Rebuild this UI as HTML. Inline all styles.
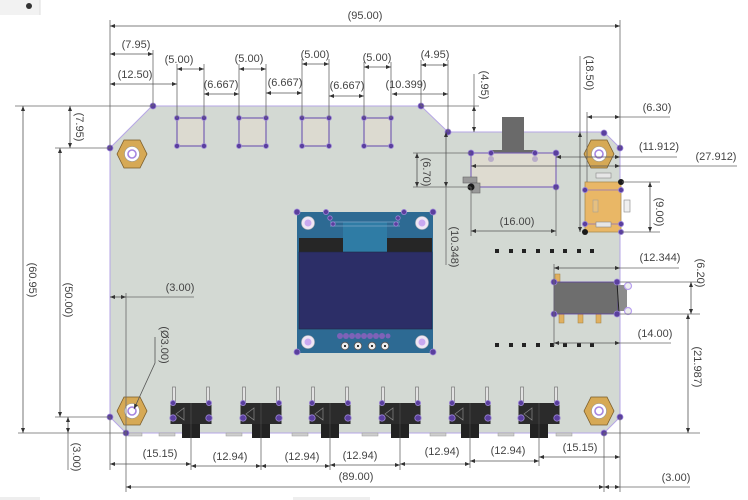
<!DOCTYPE html>
<html><head><meta charset="utf-8"><style>
html,body{margin:0;padding:0;background:#fff;width:748px;height:500px;overflow:hidden}
svg{display:block}
text{font-family:"Liberation Sans",Arial,sans-serif;font-size:11px;fill:#444}
.e{stroke:#6a6a6a;stroke-width:0.8;fill:none}
.d{stroke:#555;stroke-width:0.8;fill:none;marker-start:url(#ar);marker-end:url(#ar)}
.p{fill:#5a3f9e;stroke:#9b85d6;stroke-width:0.8}
.pb{fill:#1a1a1a}
</style></head><body>
<svg width="748" height="500" viewBox="0 0 748 500" xmlns="http://www.w3.org/2000/svg">
<defs>
<marker id="ar" viewBox="0 0 10 10" refX="10" refY="5" markerWidth="7" markerHeight="5" orient="auto-start-reverse" markerUnits="userSpaceOnUse"><path d="M0,1 L10,5 L0,9z" fill="#333"/></marker>
<g id="hex"><path d="M-15,0 L-8,-14 L8,-14 L15,0 L8,14 L-8,14Z" fill="#d6a955" stroke="#7a5d2a" stroke-width="0.8"/><circle r="7.5" fill="#fff" stroke="#999" stroke-width="0.6"/><circle r="4" fill="#fff" stroke="#a585e0" stroke-width="1.6"/></g>
<g id="sw">
<rect x="-18.5" y="-24" width="3" height="15" fill="#e2e2e2" stroke="#777" stroke-width="0.7"/>
<rect x="15.5" y="-24" width="3" height="15" fill="#e2e2e2" stroke="#777" stroke-width="0.7"/>
<rect x="-20.5" y="-8" width="41" height="21" fill="#2b2b2b"/>
<rect x="-9" y="13" width="18" height="14" fill="#222"/>
<line x1="0" y1="-8" x2="0" y2="27" stroke="#555" stroke-width="0.6"/>
<path d="M-7,-3 L-7,9 L-15,3Z" fill="none" stroke="#888" stroke-width="0.7"/>
<circle cx="-18" cy="-8" r="2.6" class="p"/><circle cx="18" cy="-8" r="2.6" class="p"/>
<circle cx="-18" cy="7" r="3.2" class="p"/><circle cx="18" cy="7" r="3.2" class="p"/>
</g>
<g id="sq"><rect x="0" y="0" width="27" height="28" fill="#dcdad0" stroke="#6d55b0" stroke-width="1.1"/>
<circle cx="0" cy="0" r="2.5" class="p"/><circle cx="27" cy="0" r="2.5" class="p"/><circle cx="0" cy="28" r="2.5" class="p"/><circle cx="27" cy="28" r="2.5" class="p"/></g>
</defs>

<!-- top-left widget -->
<rect x="0" y="0" width="40" height="15" fill="#f2f2f2"/>
<line x1="40" y1="0" x2="40" y2="15" stroke="#ddd"/>
<circle cx="29" cy="6" r="3" fill="#333"/>
<rect x="0" y="497" width="40" height="3" fill="#eee"/>
<rect x="293" y="497" width="77" height="3" fill="#eee"/>

<!-- board -->
<path d="M152,106 H421 L448,132 H604 L620,148 V417 L604,433 H126 L110,417 V148 Z" fill="#d3d9d3" stroke="#b6a6e6" stroke-width="1"/>

<!-- bottom edge tabs -->
<g fill="#cfcfcf" stroke="#999" stroke-width="0.5">
<rect x="128" y="433" width="14" height="3"/><rect x="159" y="433" width="16" height="3"/><rect x="226" y="433" width="16" height="3"/><rect x="292" y="433" width="16" height="3"/><rect x="362" y="433" width="16" height="3"/><rect x="430" y="433" width="16" height="3"/><rect x="498" y="433" width="16" height="3"/><rect x="556" y="433" width="16" height="3"/>
</g>

<!-- top squares -->
<use href="#sq" x="177" y="118"/><use href="#sq" x="239" y="118"/><use href="#sq" x="302" y="118"/><use href="#sq" x="364" y="118"/>

<!-- hex nuts -->
<use href="#hex" x="132" y="154"/><use href="#hex" x="599" y="154"/><use href="#hex" x="132" y="411"/><use href="#hex" x="599" y="411"/>

<!-- slide switch -->
<rect x="502" y="117" width="22" height="38" fill="#6a6a6a"/>
<rect x="491" y="150" width="45" height="7" fill="#6a6a6a"/>
<rect x="471" y="153" width="85" height="34" fill="#dedbd0" stroke="#7a60b8" stroke-width="1.1"/>
<circle cx="491" cy="159" r="3" fill="#b9acc9"/><circle cx="535" cy="159" r="3" fill="#b9acc9"/>
<rect x="463" y="177" width="14" height="6" fill="#999" stroke="#666" stroke-width="0.6"/>
<rect x="472" y="183" width="8" height="10" fill="#999" stroke="#666" stroke-width="0.6"/>
<circle cx="471" cy="153" r="3" class="p"/><circle cx="491" cy="153" r="2.6" class="p"/><circle cx="535" cy="153" r="2.6" class="p"/><circle cx="556" cy="153" r="3" class="p"/><circle cx="556" cy="187" r="3" class="p"/>
<circle cx="471" cy="187" r="3.5" class="pb"/>

<!-- USB -->
<rect x="596" y="173" width="15" height="5" fill="#e6e6e6" stroke="#888" stroke-width="0.6"/>
<rect x="585" y="182" width="36" height="50" fill="#e9b766" stroke="#a98b50" stroke-width="0.8"/>
<line x1="585" y1="190" x2="621" y2="190" stroke="#8a70c0" stroke-width="0.8"/>
<line x1="585" y1="224" x2="621" y2="224" stroke="#8a70c0" stroke-width="0.8"/>
<rect x="596" y="222" width="15" height="5" fill="#e6e6e6" stroke="#888" stroke-width="0.6"/>
<rect x="593" y="200" width="5" height="12" fill="#e6c080" stroke="#999" stroke-width="0.5"/>
<rect x="624" y="200" width="6" height="12" fill="#f0f0f0" stroke="#888" stroke-width="0.6"/>
<circle cx="585" cy="190" r="2.6" class="p"/><circle cx="585" cy="224" r="2.6" class="p"/><circle cx="621" cy="190" r="2.6" class="p"/><circle cx="621" cy="224" r="2.6" class="p"/><circle cx="621" cy="232" r="2.6" class="p"/>
<circle cx="621" cy="182" r="3" class="pb"/><circle cx="585" cy="232" r="3" class="pb"/>

<!-- header squares -->
<g fill="#222">
<rect x="495" y="249" width="4" height="4"/><rect x="509" y="249" width="4" height="4"/><rect x="522" y="249" width="4" height="4"/><rect x="536" y="249" width="4" height="4"/><rect x="550" y="249" width="4" height="4"/><rect x="563" y="249" width="4" height="4"/><rect x="577" y="249" width="4" height="4"/><rect x="590" y="249" width="4" height="4"/>
<rect x="495" y="343" width="4" height="4"/><rect x="509" y="343" width="4" height="4"/><rect x="522" y="343" width="4" height="4"/><rect x="536" y="343" width="4" height="4"/><rect x="550" y="343" width="4" height="4"/><rect x="563" y="343" width="4" height="4"/><rect x="577" y="343" width="4" height="4"/><rect x="590" y="343" width="4" height="4"/>
</g>

<!-- audio jack -->
<rect x="555" y="274" width="5" height="8" fill="#e0b060" stroke="#a08040" stroke-width="0.5"/>
<rect x="559" y="314" width="5" height="9" fill="#e0b060" stroke="#a08040" stroke-width="0.5"/>
<rect x="578" y="314" width="5" height="9" fill="#e0b060" stroke="#a08040" stroke-width="0.5"/>
<rect x="596" y="314" width="5" height="9" fill="#e0b060" stroke="#a08040" stroke-width="0.5"/>
<rect x="554" y="282" width="64" height="32" fill="#6e6e6e" stroke="#5a3f9e" stroke-width="0.8"/>
<rect x="618" y="285" width="9" height="26" fill="#8c8c8c"/>
<line x1="617" y1="283" x2="619" y2="313" stroke="#222" stroke-width="1"/>
<circle cx="628" cy="286" r="3.5" fill="#eee" stroke="#b9a0f0" stroke-width="1.2"/><circle cx="628" cy="311" r="3.5" fill="#eee" stroke="#b9a0f0" stroke-width="1.2"/>
<circle cx="554" cy="282" r="3" class="p"/><circle cx="617" cy="282" r="3" class="p"/><circle cx="554" cy="314" r="3" class="p"/><circle cx="617" cy="314" r="3" class="p"/>

<!-- OLED -->
<rect x="297" y="212" width="136" height="141" fill="#2d6a93"/>
<rect x="299" y="238" width="44" height="14" fill="#262626"/>
<rect x="387" y="238" width="45" height="14" fill="#262626"/>
<path d="M343,222 L387,222 L387,252 L343,252Z" fill="#2f7ca5"/>
<line x1="330" y1="222" x2="400" y2="222" stroke="#7ea6c8" stroke-width="0.7"/>
<line x1="330" y1="226" x2="400" y2="226" stroke="#7ea6c8" stroke-width="0.7"/>
<rect x="299" y="252" width="133" height="77" fill="#2c2e67" stroke="#222844" stroke-width="0.6"/>
<g fill="#efe6f5" stroke="#bbb" stroke-width="0.6">
<circle cx="308" cy="223" r="6.5"/><circle cx="422" cy="223" r="6.5"/><circle cx="308" cy="342" r="6.5"/><circle cx="422" cy="342" r="6.5"/>
</g>
<g fill="#c9a9f0"><circle cx="308" cy="223" r="3.5"/><circle cx="422" cy="223" r="3.5"/><circle cx="308" cy="342" r="3.5"/><circle cx="422" cy="342" r="3.5"/></g>
<g fill="#7d62b8"><circle cx="340" cy="336" r="3"/><circle cx="346" cy="336" r="3"/><circle cx="352" cy="336" r="3"/><circle cx="358" cy="336" r="3"/><circle cx="364" cy="336" r="3"/><circle cx="370" cy="336" r="3"/><circle cx="376" cy="336" r="3"/><circle cx="382" cy="336" r="3"/><circle cx="388" cy="336" r="2.5"/></g>
<g fill="#eee" stroke="#555" stroke-width="0.8"><circle cx="345" cy="346" r="3.8"/><circle cx="358" cy="346" r="3.8"/><circle cx="372" cy="346" r="3.8"/><circle cx="385" cy="346" r="3.8"/></g>
<g fill="#333"><rect x="344" y="345" width="2" height="2"/><rect x="357" y="345" width="2" height="2"/><rect x="371" y="345" width="2" height="2"/><rect x="384" y="345" width="2" height="2"/></g>
<circle cx="297" cy="212" r="3" class="p"/><circle cx="326" cy="212" r="2.6" class="p"/><circle cx="404" cy="212" r="2.6" class="p"/><circle cx="433" cy="212" r="3" class="p"/><circle cx="297" cy="352" r="3" class="p"/><circle cx="433" cy="352" r="3" class="p"/>
<circle cx="330" cy="218" r="2.2" class="p"/><circle cx="333" cy="224" r="2.2" class="p"/><circle cx="398" cy="218" r="2.2" class="p"/><circle cx="396" cy="224" r="2.2" class="p"/>

<!-- switches -->
<use href="#sw" x="191" y="411"/><use href="#sw" x="261" y="411"/><use href="#sw" x="330" y="411"/><use href="#sw" x="400" y="411"/><use href="#sw" x="470" y="411"/><use href="#sw" x="539" y="411"/>

<!-- board corner points -->
<circle cx="153" cy="106" r="3" class="p"/><circle cx="110" cy="148" r="3" class="p"/><circle cx="421" cy="106" r="3" class="p"/><circle cx="448" cy="132" r="3" class="p"/><circle cx="604" cy="133" r="3" class="p"/><circle cx="620" cy="148" r="3" class="p"/><circle cx="620" cy="417" r="3" class="p"/><circle cx="604" cy="433" r="3" class="p"/><circle cx="126" cy="433" r="3" class="p"/><circle cx="110" cy="417" r="3" class="p"/>

<!-- extension lines -->
<path class="e" d="M110,20 V148 M620,20 V148 M153,50 V106 M177,64 V118 M204,64 V118 M239,64 V118 M266,64 V118 M302,59 V118 M329,59 V118 M364,62 V118 M391,62 V118 M448,60 V132 M421,60 V106 M421,106 H479 M474,74 V106 M580,56 V132 M587,112 V182 M620,117 H670 M620,157 H677 M620,166 H737 M413,153 H471 M413,187 H471 M446,187 V265 M471,187 V236 M556,187 V236 M622,182 H660 M622,232 H660 M620,268 H679 M554,264 V346 M620,282 H700 M620,314 H700 M620,343 H671 M604,433 H700 M620,487 H690 M604,433 V492 M620,417 V492 M110,417 V470 M191,438 V470 M261,438 V470 M330,438 V470 M400,438 V470 M470,438 V468 M539,438 V466 M15,106 H152 M18,433 H126 M55,148 H110 M55,417 H110 M68,433 V470 M126,297 H194 M126,293 V492"/>

<!-- dimension lines -->
<line class="d" x1="110" y1="26" x2="620" y2="26"/>
<line class="d" x1="110" y1="54" x2="153" y2="54"/>
<line class="d" x1="110" y1="84" x2="177" y2="84"/>
<line class="d" x1="177" y1="69" x2="204" y2="69"/>
<line class="d" x1="239" y1="69" x2="266" y2="69"/>
<line class="d" x1="302" y1="64" x2="329" y2="64"/>
<line class="d" x1="364" y1="67" x2="391" y2="67"/>
<line class="d" x1="204" y1="94" x2="239" y2="94"/>
<line class="d" x1="266" y1="93" x2="302" y2="93"/>
<line class="d" x1="329" y1="96" x2="364" y2="96"/>
<line class="d" x1="392" y1="94" x2="448" y2="94"/>
<line class="d" x1="421" y1="65" x2="448" y2="65"/>
<line class="d" x1="474" y1="106" x2="474" y2="132"/>
<line class="d" x1="580" y1="132" x2="580" y2="232"/>
<line class="d" x1="587" y1="117" x2="620" y2="117"/>
<line class="d" x1="556" y1="157" x2="620" y2="157"/>
<line class="d" x1="471" y1="166" x2="620" y2="166"/>
<line class="d" x1="417" y1="153" x2="417" y2="187"/>
<line class="d" x1="446" y1="132" x2="446" y2="187"/>
<line class="d" x1="471" y1="231" x2="556" y2="231"/>
<line class="d" x1="650" y1="182" x2="650" y2="232"/>
<line class="d" x1="554" y1="268" x2="620" y2="268"/>
<line class="d" x1="691" y1="282" x2="691" y2="314"/>
<line class="d" x1="554" y1="343" x2="620" y2="343"/>
<line class="d" x1="688" y1="314" x2="688" y2="433"/>
<line class="d" x1="604" y1="487" x2="620" y2="487"/>
<line class="d" x1="126" y1="487" x2="604" y2="487"/>
<line class="d" x1="539" y1="457" x2="620" y2="457"/>
<line class="d" x1="470" y1="461" x2="539" y2="461"/>
<line class="d" x1="400" y1="464" x2="470" y2="464"/>
<line class="d" x1="330" y1="465" x2="400" y2="465"/>
<line class="d" x1="261" y1="466" x2="330" y2="466"/>
<line class="d" x1="191" y1="466" x2="261" y2="466"/>
<line class="d" x1="110" y1="464" x2="191" y2="464"/>
<line class="d" x1="23" y1="106" x2="23" y2="433"/>
<line class="d" x1="60" y1="148" x2="60" y2="417"/>
<line class="d" x1="70" y1="106" x2="70" y2="148"/>
<line class="d" x1="68" y1="417" x2="68" y2="433"/>
<line class="d" x1="110" y1="297" x2="126" y2="297"/>
<path d="M155,337 V363 L134,409" fill="none" stroke="#555" stroke-width="0.8" marker-end="url(#ar)"/>

<!-- labels -->
<g text-anchor="middle">
<text x="365" y="19">(95.00)</text>
<text x="136" y="48">(7.95)</text>
<text x="135" y="78">(12.50)</text>
<text x="179" y="63">(5.00)</text>
<text x="249" y="62">(5.00)</text>
<text x="315" y="58">(5.00)</text>
<text x="377" y="61">(5.00)</text>
<text x="221" y="88">(6.667)</text>
<text x="285" y="86">(6.667)</text>
<text x="347" y="89">(6.667)</text>
<text x="406" y="88">(10.399)</text>
<text x="435" y="58">(4.95)</text>
<text x="657" y="111">(6.30)</text>
<text x="659" y="150">(11.912)</text>
<text x="716" y="160">(27.912)</text>
<text x="517" y="225">(16.00)</text>
<text x="660" y="261">(12.344)</text>
<text x="655" y="337">(14.00)</text>
<text x="676" y="481">(3.00)</text>
<text x="580" y="451">(15.15)</text>
<text x="508" y="454">(12.94)</text>
<text x="442" y="455">(12.94)</text>
<text x="360" y="459">(12.94)</text>
<text x="302" y="460">(12.94)</text>
<text x="230" y="460">(12.94)</text>
<text x="160" y="457">(15.15)</text>
<text x="356" y="480">(89.00)</text>
<text x="180" y="291">(3.00)</text>
<text x="485" y="89" transform="rotate(90 485 85)">(4.95)</text>
<text x="590" y="77" transform="rotate(90 590 73)">(18.50)</text>
<text x="427" y="176" transform="rotate(90 427 172)">(6.70)</text>
<text x="455" y="251" transform="rotate(90 455 247)">(10.348)</text>
<text x="660" y="216" transform="rotate(90 660 212)">(9.00)</text>
<text x="701" y="277" transform="rotate(90 701 273)">(6.20)</text>
<text x="698" y="371" transform="rotate(90 698 367)">(21.987)</text>
<text x="33" y="284" transform="rotate(90 33 280)">(60.95)</text>
<text x="69" y="304" transform="rotate(90 69 300)">(50.00)</text>
<text x="80" y="131" transform="rotate(90 80 127)">(7.95)</text>
<text x="77" y="461" transform="rotate(90 77 457)">(3.00)</text>
<text x="165" y="349" transform="rotate(90 165 345)">(Ø3.00)</text>
</g>
</svg>
</body></html>
